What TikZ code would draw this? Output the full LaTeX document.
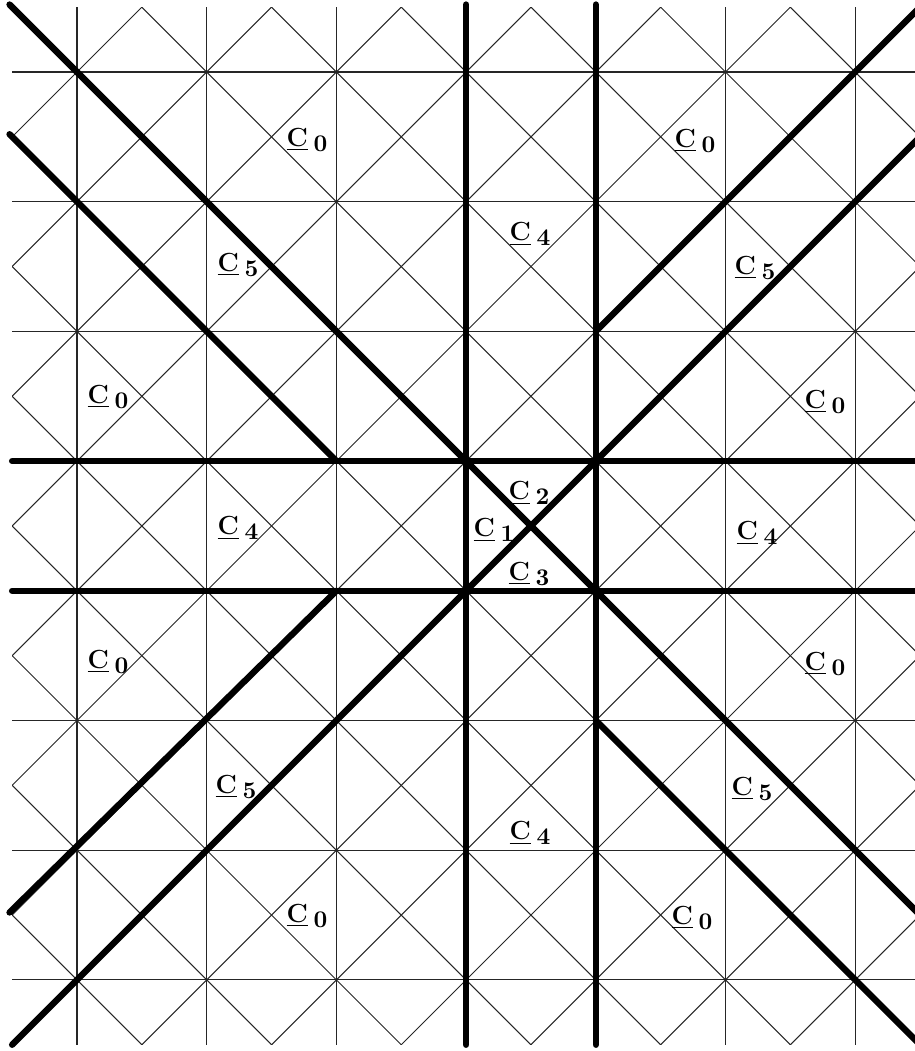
\documentclass[tikz,border=0pt]{standalone}
\newcommand{\clab}[1]{\underline{C}\kern0.22em\raisebox{-0.45ex}{\fontsize{10.5}{11}\selectfont #1}}
\tikzset{
  thinline/.style={line width=0.45pt,black!85},
  thickline/.style={line width=2.8pt,black,line cap=round},
  lab/.style={font=\fontsize{11.5}{13}\selectfont\bfseries,inner sep=0pt}
}
\begin{document}
\begin{tikzpicture}[x=2cm,y=-2cm]
\useasboundingbox (-0.5937,-0.5551) rectangle (6.4610,7.5482);
\clip (-0.5937,-0.5551) rectangle (6.4610,7.5482);
% thin grid
\begin{scope}
\clip (-0.5,-0.5) rectangle (6.5,7.5);
\foreach \i in {0,...,6} \draw[thinline] (\i,-0.5) -- (\i,7.5);
\foreach \j in {0,...,7} \draw[thinline] (-0.5,\j) -- (6.5,\j);
\foreach \a in {-9,...,8} \draw[thinline] (\a-1,-1) -- (\a+9,9);
\foreach \b in {-2,...,15} \draw[thinline] (\b+1,-1) -- (\b-9,9);
\end{scope}
% named points
\coordinate (v3t) at (3,-0.52); \coordinate (v3b) at (3,7.5);
\coordinate (v4t) at (4,-0.52); \coordinate (v4b) at (4,7.5);
\coordinate (h3l) at (-0.5,3); \coordinate (h3r) at (6.6,3);
\coordinate (h4l) at (-0.5,4); \coordinate (h4r) at (6.6,4);
\coordinate (dtl) at (-0.52,-0.52); \coordinate (dbr) at (6.7,6.7);
\coordinate (abl) at (-0.5,7.5); \coordinate (atr) at (6.7,0.3);
\coordinate (p23) at (2,3); \coordinate (nwend) at (-0.52,0.48);
\coordinate (p42) at (4,2); \coordinate (neend) at (6.7,-0.7);
\coordinate (p24) at (2,4); \coordinate (swend) at (-0.52,6.48);
\coordinate (p45) at (4,5); \coordinate (seend) at (6.7,7.7);
% thick lines
\draw[thickline] (v3t) -- (v3b);
\draw[thickline] (v4t) -- (v4b);
\draw[thickline] (h3l) -- (h3r);
\draw[thickline] (h4l) -- (h4r);
\draw[thickline] (dtl) -- (dbr);
\draw[thickline] (abl) -- (atr);
\draw[thickline] (p23) -- (nwend);
\draw[thickline] (p42) -- (neend);
\draw[thickline] (p24) -- (swend);
\draw[thickline] (p45) -- (seend);
% labels
\node[lab] (l1) at (1.773,0.524) {\clab{0}};
\node[lab] (l2) at (4.765,0.532) {\clab{0}};
\node[lab] (l3) at (3.493,1.249) {\clab{4}};
\node[lab] (l4) at (1.241,1.488) {\clab{5}};
\node[lab] (l5) at (5.227,1.511) {\clab{5}};
\node[lab] (l6) at (0.239,2.506) {\clab{0}};
\node[lab] (l7) at (5.767,2.544) {\clab{0}};
\node[lab] (l8) at (3.485,3.246) {\clab{2}};
\node[lab] (l9) at (3.215,3.531) {\clab{1}};
\node[lab] (l10) at (1.241,3.516) {\clab{4}};
\node[lab] (l11) at (5.243,3.554) {\clab{4}};
\node[lab] (l12) at (3.485,3.870) {\clab{3}};
\node[lab] (l13) at (0.239,4.549) {\clab{0}};
\node[lab] (l14) at (5.767,4.564) {\clab{0}};
\node[lab] (l15) at (1.226,5.513) {\clab{5}};
\node[lab] (l16) at (5.204,5.528) {\clab{5}};
\node[lab] (l17) at (3.493,5.867) {\clab{4}};
\node[lab] (l18) at (1.773,6.507) {\clab{0}};
\node[lab] (l19) at (4.742,6.523) {\clab{0}};
\end{tikzpicture}
\end{document}
